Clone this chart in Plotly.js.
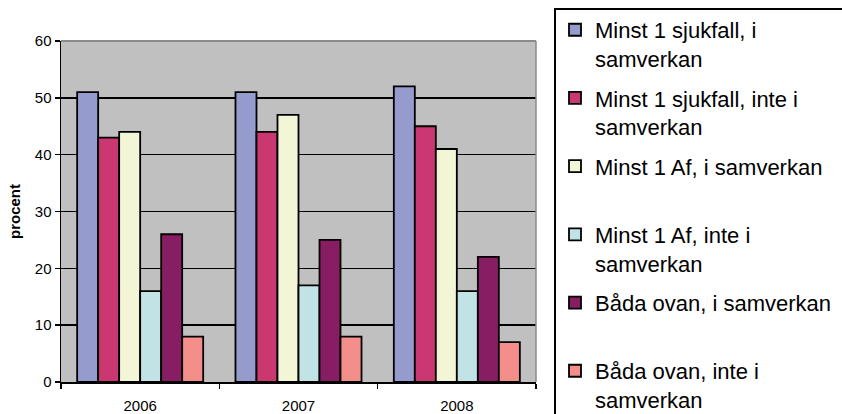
<!DOCTYPE html>
<html>
<head>
<meta charset="utf-8">
<script src="https://cdn.plot.ly/plotly-3.0.1.min.js"></script>
<style>
  html, body { margin: 0; padding: 0; background: #ffffff; }
  #chart { width: 842px; height: 414px; }
</style>
</head>
<body>
<div id="chart"></div>
<script>
// Years on the category axis
const years = ['2006', '2007', '2008'];

// Share (procent) per group and year
const sjukfallISamverkan     = [51, 51, 52];
const sjukfallInteISamverkan = [43, 44, 45];
const afISamverkan           = [44, 47, 41];
const afInteISamverkan       = [16, 17, 16];
const badaISamverkan         = [26, 25, 22];
const badaInteISamverkan     = [8, 8, 7];

// Legend labels (each kept to two lines so entries share one height)
const seriesNames = [
  'Minst 1 sjukfall, i<br>samverkan',
  'Minst 1 sjukfall, inte i<br>samverkan',
  'Minst 1 Af, i samverkan<br>&nbsp;',
  'Minst 1 Af, inte i<br>samverkan',
  'Båda ovan, i samverkan<br>&nbsp;',
  'Båda ovan, inte i<br>samverkan'
];

const seriesValues = [
  sjukfallISamverkan, sjukfallInteISamverkan, afISamverkan,
  afInteISamverkan, badaISamverkan, badaInteISamverkan
];

const seriesColors = ['#959BCD', '#CB3771', '#F2F5D6', '#C2E3E5', '#871D63', '#F48E8A'];

const FONT = '"Liberation Sans", Arial, sans-serif';

const traces = seriesValues.map((vals, i) => ({
  type: 'bar',
  name: seriesNames[i],
  legendgroup: 'g' + i,
  x: years,
  y: vals,
  marker: { color: seriesColors[i], line: { color: '#000000', width: 1.8 } },
  hoverinfo: 'skip'
}));

const layout = {
  width: 842,
  height: 414,
  margin: { l: 61, r: 306, t: 41, b: 32, autoexpand: false },
  paper_bgcolor: '#ffffff',
  plot_bgcolor: '#C0C0C0',
  font: { family: FONT, color: '#000000', size: 15 },
  barmode: 'group',
  bargap: 0.204,
  bargroupgap: 0,
  showlegend: true,
  legend: {
    x: 1.04, xanchor: 'left',
    y: 1.094, yanchor: 'top',
    bgcolor: 'rgba(0,0,0,0)',
    borderwidth: 0,
    font: { family: FONT, size: 22, color: '#000000' },
    valign: 'top',
    tracegroupgap: 8,
    traceorder: 'grouped',
    maxheight: 440
  },
  xaxis: {
    type: 'category',
    showgrid: false,
    showline: true, linecolor: '#000000', linewidth: 1.5,
    ticks: 'outside', tickson: 'boundaries', ticklen: 5, tickwidth: 1.5, tickcolor: '#000000',
    tickfont: { family: FONT, size: 15 },
    ticklabelstandoff: 9,
    zeroline: false,
    fixedrange: true
  },
  yaxis: {
    range: [0, 60],
    dtick: 10,
    tick0: 0,
    showgrid: true, gridcolor: '#000000', gridwidth: 1.5,
    showline: true, linecolor: '#000000', linewidth: 1.5,
    ticks: 'outside', ticklen: 5, tickwidth: 1.5, tickcolor: '#000000',
    tickfont: { family: FONT, size: 15 },
    zeroline: false,
    title: { text: 'procent', font: { family: FONT, size: 15, weight: 'bold' }, standoff: 10 },
    fixedrange: true
  },
  shapes: [
    // plot-area frame on the top and right sides
    { type: 'line', xref: 'paper', yref: 'paper', x0: 0, x1: 1, y0: 1, y1: 1,
      line: { color: '#8A8A8A', width: 2 }, layer: 'above' },
    { type: 'line', xref: 'paper', yref: 'paper', x0: 1, x1: 1, y0: 0, y1: 1,
      line: { color: '#8A8A8A', width: 1.5 }, layer: 'above' },
    // legend frame, running off the right and bottom edges
    { type: 'rect', xref: 'paper', yref: 'paper', x0: 1.04, x1: 2, y0: -0.5, y1: 1.0938,
      line: { color: '#000000', width: 2 }, fillcolor: 'rgba(0,0,0,0)', layer: 'above' }
  ]
};

Plotly.newPlot('chart', traces, layout, { staticPlot: true, displayModeBar: false });
</script>
</body>
</html>
